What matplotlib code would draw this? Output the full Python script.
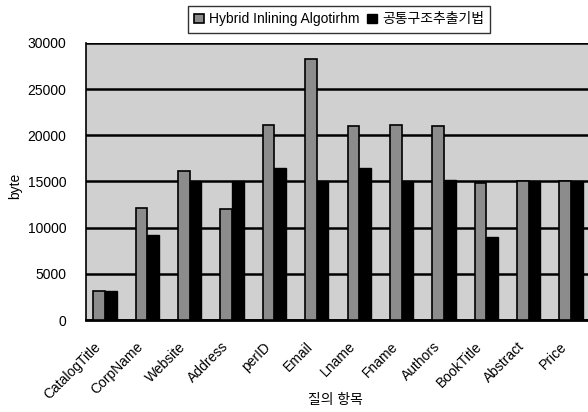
import numpy as np
import matplotlib.pyplot as plt
from matplotlib.transforms import ScaledTranslation

plt.rcParams['font.family'] = ['Liberation Sans', 'Noto Sans CJK KR', 'DejaVu Sans']

categories = ['CatalogTitle', 'CorpName', 'Website', 'Address', 'perID', 'Email',
              'Lname', 'Fname', 'Authors', 'BookTitle', 'Abstract', 'Price']
hybrid = [3200, 12100, 16100, 12000, 21100, 28200, 21000, 21100, 21000, 14800, 15000, 15000]
common = [3200, 9200, 15000, 15000, 16500, 15000, 16500, 15000, 15200, 9000, 15000, 15000]

fig = plt.figure(figsize=(5.88, 4.12), dpi=100)
ax = fig.add_axes([0.146, 0.223, 0.854, 0.673])

x = np.arange(len(categories))
w = 0.275
ax.bar(x - w / 2, hybrid, w, color='#8c8c8c', edgecolor='black', linewidth=1.2,
       label='Hybrid Inlining Algotirhm', zorder=3)
ax.bar(x + w / 2, common, w, color='black', edgecolor='black', linewidth=1.0,
       label='공통구조추출기법', zorder=3)

ax.set_facecolor('#d0d0d0')
ax.set_xlim(-0.45, 11.4)
ax.set_ylim(0, 30000)
ax.set_yticks(range(0, 30001, 5000))
ax.yaxis.grid(True, color='black', linewidth=1.8, zorder=1)
ax.set_axisbelow(True)
ax.tick_params(axis='y', length=0, labelsize=10, pad=14)
ax.tick_params(axis='x', length=0, labelsize=10, pad=14)
ax.set_xticks(x)
ax.set_xticklabels(categories, rotation=45, ha='right', rotation_mode='anchor')
shift = ScaledTranslation(-11 / 100, 0, fig.dpi_scale_trans)
for lbl in ax.get_xticklabels():
    lbl.set_transform(lbl.get_transform() + shift)
for side in ['top', 'right']:
    ax.spines[side].set_visible(False)
ax.spines['left'].set_linewidth(1.2)
ax.spines['bottom'].set_linewidth(2.0)

# y-axis title placed by hand so it stays inside the figure
fig.text(0.025, 0.55, 'byte', fontsize=10, rotation=90, ha='center', va='center')
fig.text(0.57, 0.02, '질의 항목', fontsize=10, ha='center')

leg = ax.legend(loc='lower center', bbox_to_anchor=(0.504, 1.012), ncol=2,
                fontsize=10, frameon=True, fancybox=False, edgecolor='black',
                handlelength=0.7, handleheight=0.7, handletextpad=0.35,
                columnspacing=0.6, borderpad=0.45)
leg.get_frame().set_linewidth(1.0)

fig.savefig('out.png', dpi=100)
